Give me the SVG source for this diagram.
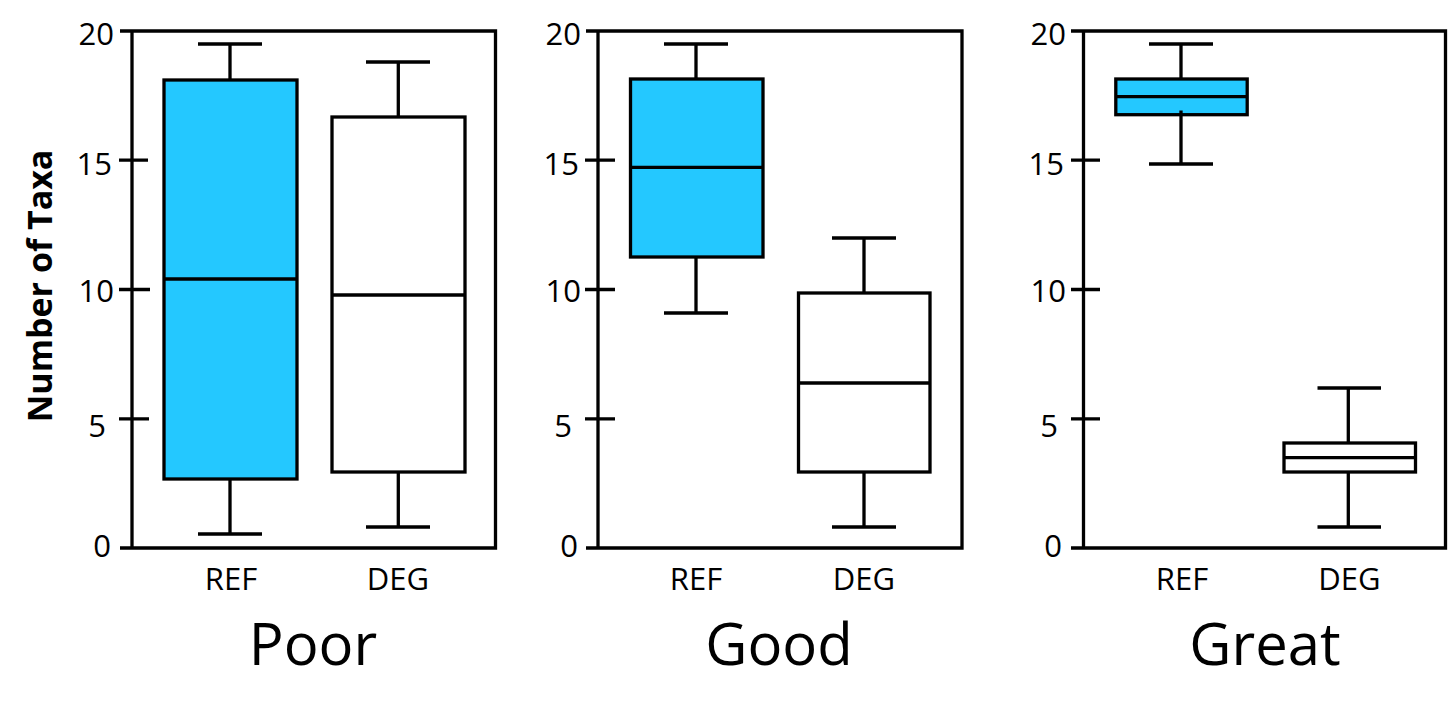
<svg xmlns="http://www.w3.org/2000/svg" width="1449" height="724" viewBox="0 0 1449 724">
<style>
.ln{stroke:#000;stroke-width:3.3;fill:none}
.ref{fill:#24C8FF;stroke:#000;stroke-width:3.3}
.deg{fill:#fff;stroke:#000;stroke-width:3.3}
.tk{font-family:"Open Sans","Liberation Sans",sans-serif;font-size:31px;fill:#000;text-anchor:end}
.cat{font-family:"Open Sans","Liberation Sans",sans-serif;font-size:31px;fill:#000;text-anchor:middle}
.ttl{font-family:"Open Sans","Liberation Sans",sans-serif;font-size:58px;fill:#000;text-anchor:middle}
.yt{font-family:"Open Sans","Liberation Sans",sans-serif;font-size:34px;font-weight:bold;fill:#000;text-anchor:middle}
</style>
<rect width="1449" height="724" fill="#fff"/>
<text class="yt" transform="translate(52,286) rotate(-90)">Number of Taxa</text>

<g id="panel-poor">
  <path class="ln" d="M132,31 H495.5 V548 H132 Z M120,31 H132 M119,160.2 H148 M119,289.5 H150 M119,418.8 H149 M120,548 H132"/>
  <text class="tk" x="114" y="45">20</text>
  <text class="tk" x="112" y="175">15</text>
  <text class="tk" x="114" y="302">10</text>
  <text class="tk" x="106" y="437">5</text>
  <text class="tk" x="111" y="557">0</text>
  <text class="cat" x="231" y="590">REF</text>
  <text class="cat" x="398" y="590">DEG</text>
  <text class="ttl" x="313" y="665">Poor</text>
</g>
<g id="poor-ref">
  <path class="ln" d="M230,80 V44 M198,44 H262 M230,479 V534 M198,534 H262"/>
  <rect class="ref" x="164" y="80" width="133" height="399"/>
  <path class="ln" d="M164,279 H297"/>
</g>
<g id="poor-deg">
  <path class="ln" d="M398.3,117 V62 M366,62 H430 M398.3,472 V527 M366,527 H430"/>
  <rect class="deg" x="332" y="117" width="133" height="355"/>
  <path class="ln" d="M332,295 H465"/>
</g>

<g id="panel-good">
  <path class="ln" d="M598,31 H962 V548 H598 Z M586,31 H598 M585,160.2 H615 M585,289.5 H615 M585,418.8 H615 M586,548 H598"/>
  <text class="tk" x="581" y="45">20</text>
  <text class="tk" x="579" y="175">15</text>
  <text class="tk" x="581" y="302">10</text>
  <text class="tk" x="572" y="437">5</text>
  <text class="tk" x="578" y="557">0</text>
  <text class="cat" x="696" y="590">REF</text>
  <text class="cat" x="864" y="590">DEG</text>
  <text class="ttl" x="779" y="665">Good</text>
</g>
<g id="good-ref">
  <path class="ln" d="M696,79 V44 M664,44 H728 M696,257 V313 M664,313 H728"/>
  <rect class="ref" x="630.5" y="79" width="132.5" height="178"/>
  <path class="ln" d="M630.5,167.3 H763"/>
</g>
<g id="good-deg">
  <path class="ln" d="M864,293 V238 M832,238 H896 M864,472 V527 M832,527 H896"/>
  <rect class="deg" x="798.5" y="293" width="131.5" height="179"/>
  <path class="ln" d="M798.5,383 H930"/>
</g>

<g id="panel-great">
  <path class="ln" d="M1083.5,31 H1445.5 V548 H1083.5 Z M1071,31 H1083.5 M1071,160.2 H1100 M1071,289.5 H1100 M1071,418.8 H1100 M1071,548 H1083.5"/>
  <text class="tk" x="1066" y="45">20</text>
  <text class="tk" x="1064" y="175">15</text>
  <text class="tk" x="1066" y="302">10</text>
  <text class="tk" x="1058" y="437">5</text>
  <text class="tk" x="1062" y="557">0</text>
  <text class="cat" x="1182" y="590">REF</text>
  <text class="cat" x="1349.5" y="590">DEG</text>
  <text class="ttl" x="1265" y="665">Great</text>
</g>
<g id="great-ref">
  <path class="ln" d="M1181,79 V44 M1149,44 H1213 M1149,164 H1213"/>
  <rect class="ref" x="1115.8" y="79" width="131.4" height="35.7"/>
  <path class="ln" d="M1115.8,96.7 H1247.2 M1181,110.5 V164"/>
</g>
<g id="great-deg">
  <path class="ln" d="M1348.3,443 V388 M1317.5,388 H1381 M1348.3,472 V527 M1317.5,527 H1381"/>
  <rect class="deg" x="1284" y="443" width="131.5" height="29"/>
  <path class="ln" d="M1284,457.7 H1415.5"/>
</g>
</svg>
